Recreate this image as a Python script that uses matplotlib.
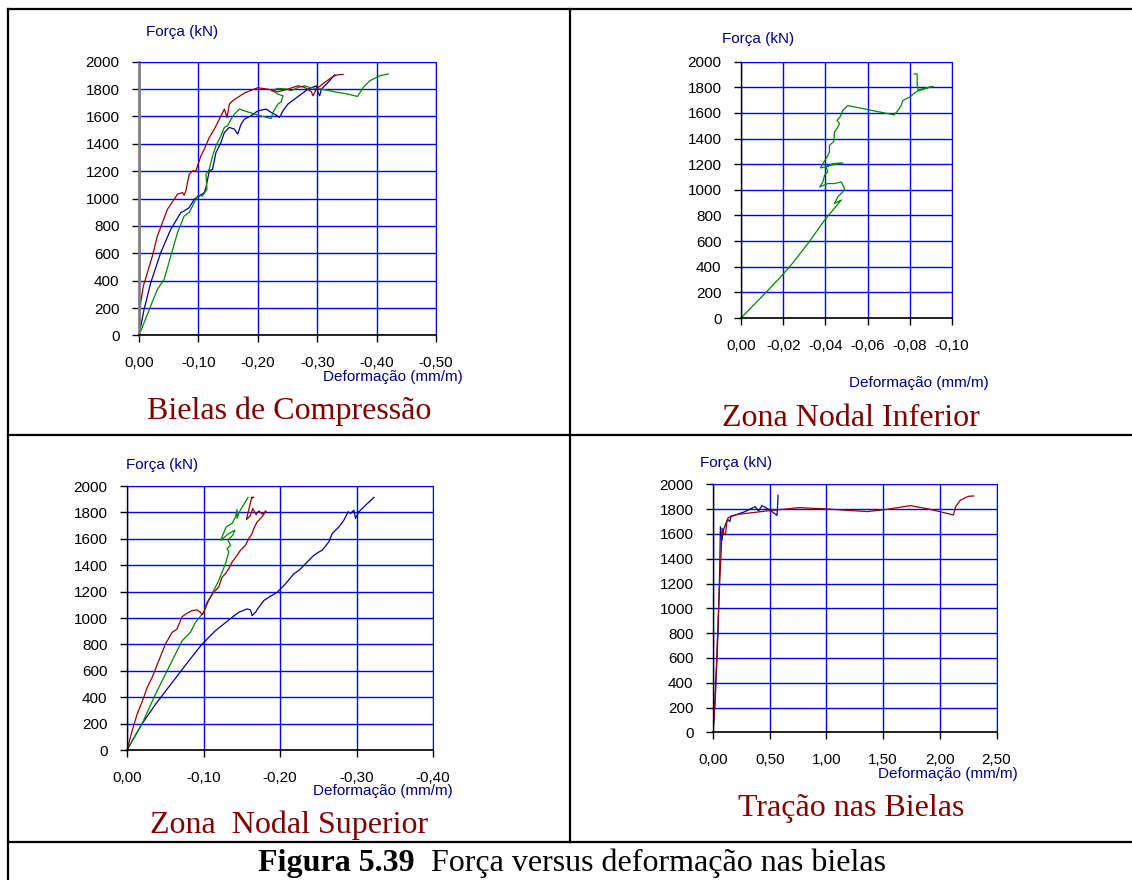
import matplotlib
matplotlib.use("Agg")
import matplotlib.pyplot as plt
from matplotlib.lines import Line2D
from matplotlib.ticker import FuncFormatter, MultipleLocator

plt.rcParams['font.family'] = ['Liberation Sans', 'DejaVu Sans']

W, H = 1132, 880

# ---- Bielas de Compressao (deformacao mm/m, forca kN)
bc_red_x = [0, -0.0028, -0.0073, -0.0141, -0.0225, -0.031, -0.0394, -0.0479, -0.0592, -0.0648,
            -0.0732, -0.076, -0.0789, -0.0845, -0.0901, -0.0958, -0.0986, -0.1042, -0.1099, -0.1183,
            -0.1268, -0.1352, -0.1437, -0.1482, -0.1521, -0.1577, -0.1775, -0.2, -0.2225, -0.2338,
            -0.2507, -0.2676, -0.2789, -0.2901, -0.293, -0.2986, -0.3127, -0.3268, -0.3352, -0.3437]
bc_red_f = [0, 239, 361, 459, 580, 727, 824, 922, 995, 1032,
            1044, 1024, 1056, 1178, 1202, 1202, 1239, 1312, 1361, 1446,
            1507, 1580, 1654, 1593, 1690, 1715, 1771, 1810, 1795, 1780,
            1800, 1824, 1812, 1780, 1751, 1800, 1849, 1893, 1905, 1907]

bc_blue_x = [0, -0.0085, -0.0197, -0.0366, -0.0535, -0.0704, -0.076, -0.0845, -0.093, -0.1014,
             -0.1099, -0.1127, -0.1155, -0.1183, -0.1239, -0.1296, -0.138, -0.1437, -0.1521, -0.1606,
             -0.1662, -0.1718, -0.1775, -0.1887, -0.2, -0.2141, -0.2225, -0.2282, -0.2366, -0.2423,
             -0.2507, -0.262, -0.2732, -0.2845, -0.2986, -0.3014, -0.3042, -0.307, -0.3183, -0.3296]
bc_blue_f = [0, 190, 385, 605, 776, 898, 910, 934, 995, 1020,
             1044, 1080, 1141, 1202, 1215, 1337, 1410, 1483, 1520, 1507,
             1471, 1544, 1580, 1605, 1641, 1654, 1629, 1617, 1593, 1641,
             1690, 1727, 1763, 1800, 1824, 1776, 1751, 1800, 1849, 1905]

bc_green_x = [0, -0.0085, -0.0197, -0.031, -0.0423, -0.0535, -0.0648, -0.0761, -0.0845, -0.0901,
              -0.0986, -0.107, -0.1144, -0.1127, -0.1183, -0.1239, -0.1296, -0.138, -0.1437, -0.1493,
              -0.1549, -0.1606, -0.169, -0.1775, -0.2, -0.2225, -0.2254, -0.2338, -0.2394, -0.2423,
              -0.2338, -0.2282, -0.2225, -0.2338, -0.2479, -0.2563, -0.2676, -0.2789, -0.2873, -0.307,
              -0.3296, -0.3521, -0.3679, -0.3775, -0.3887, -0.4056, -0.4197]
bc_green_f = [0, 93, 215, 337, 410, 580, 751, 873, 898, 946,
              1020, 1020, 1068, 1178, 1215, 1312, 1385, 1459, 1520, 1532,
              1580, 1617, 1654, 1641, 1610, 1585, 1629, 1690, 1707, 1751,
              1763, 1780, 1788, 1805, 1800, 1788, 1812, 1824, 1812, 1800,
              1780, 1763, 1746, 1812, 1861, 1898, 1910]

# ---- Zona Nodal Inferior
ni_green_x = [0, -0.0111, -0.019, -0.0244, -0.0324, -0.0396, -0.0475, -0.0443, -0.0459, -0.0483,
              -0.0491, -0.0475, -0.0443, -0.0411, -0.0373, -0.0388, -0.0396, -0.0411, -0.0404, -0.0435,
              -0.0483, -0.0427, -0.0396, -0.0376, -0.0388, -0.0408, -0.0419, -0.0419, -0.044, -0.0443,
              -0.0459, -0.0467, -0.0455, -0.0469, -0.0476, -0.0483, -0.0506, -0.0725, -0.0744, -0.0759,
              -0.0767, -0.0783, -0.0799, -0.0831, -0.087, -0.091, -0.0878, -0.0839, -0.0835, -0.0835,
              -0.082]
ni_green_f = [0, 187, 324, 427, 596, 764, 920, 894, 946, 984,
              1010, 1062, 1049, 1049, 1023, 1062, 1114, 1140, 1179, 1205,
              1210, 1192, 1179, 1171, 1205, 1256, 1295, 1347, 1378, 1451,
              1490, 1516, 1542, 1568, 1594, 1620, 1658, 1585, 1619, 1658,
              1697, 1710, 1723, 1767, 1788, 1808, 1795, 1780, 1819, 1904,
              1904]

# ---- Zona Nodal Superior
ns_red_x = [0, -0.0065, -0.0131, -0.0218, -0.0262, -0.0327, -0.0414, -0.0502, -0.0589, -0.0654,
            -0.0698, -0.072, -0.0785, -0.085, -0.0916, -0.0959, -0.0981, -0.1003, -0.1047, -0.109,
            -0.1134, -0.1199, -0.1243, -0.1287, -0.133, -0.1374, -0.1439, -0.1483, -0.1548, -0.1592,
            -0.1635, -0.1657, -0.1701, -0.1766, -0.1819, -0.1766, -0.1723, -0.1688, -0.1644, -0.1609,
            -0.1561, -0.1627, -0.1657, -0.1627]
ns_red_f = [0, 142, 269, 396, 472, 548, 675, 802, 891, 916,
            980, 1010, 1036, 1056, 1061, 1043, 1025, 1043, 1119, 1157,
            1195, 1234, 1310, 1335, 1373, 1424, 1475, 1513, 1551, 1602,
            1640, 1678, 1728, 1766, 1812, 1787, 1812, 1782, 1830, 1772,
            1746, 1906, 1914, 1914]

ns_green_x = [0, -0.0196, -0.0371, -0.0545, -0.072, -0.0829, -0.0894, -0.1003, -0.1068, -0.1134,
              -0.1199, -0.1243, -0.1287, -0.133, -0.1308, -0.1352, -0.1321, -0.1382, -0.1409, -0.133,
              -0.1225, -0.1295, -0.1374, -0.1417, -0.1439, -0.1439, -0.147, -0.1583]
ns_green_f = [0, 198, 421, 624, 827, 891, 967, 1043, 1132, 1208,
              1284, 1348, 1411, 1500, 1525, 1551, 1589, 1627, 1665, 1640,
              1589, 1690, 1716, 1766, 1822, 1754, 1805, 1914]

ns_blue_x = [0, -0.0196, -0.0371, -0.0589, -0.0807, -0.0981, -0.1156, -0.1374, -0.1461, -0.157,
             -0.1614, -0.1635, -0.1679, -0.1723, -0.1788, -0.1853, -0.1963, -0.1984, -0.2072, -0.2181,
             -0.2246, -0.2311, -0.2377, -0.2442, -0.2508, -0.2551, -0.2638, -0.2682, -0.277, -0.2835,
             -0.2891, -0.2922, -0.2966, -0.2987, -0.3031, -0.3075, -0.3227]
ns_blue_f = [0, 198, 345, 510, 675, 802, 904, 1005, 1043, 1069,
             1061, 1018, 1043, 1081, 1132, 1157, 1195, 1208, 1259, 1335,
             1360, 1398, 1437, 1475, 1500, 1513, 1576, 1640, 1690, 1741,
             1805, 1792, 1817, 1754, 1805, 1830, 1914]

# ---- Tracao nas Bielas
tb_red_x = [0, 0.015, 0.030, 0.045, 0.060, 0.074, 0.080, 0.095, 0.110, 0.122,
            0.134, 0.164, 0.223, 0.475, 0.76, 1.0, 1.36, 1.52, 1.74, 1.9,
            2.12, 2.14, 2.18, 2.25, 2.30]
tb_red_f = [0, 207, 530, 906, 1228, 1497, 1645, 1605, 1591, 1699,
            1731, 1745, 1758, 1785, 1812, 1801, 1780, 1796, 1828, 1801,
            1753, 1820, 1871, 1903, 1906]

tb_blue_x = [0, 0.021, 0.045, 0.060, 0.065, 0.080, 0.092, 0.128, 0.149, 0.158,
             0.223, 0.283, 0.372, 0.402, 0.432, 0.491, 0.565, 0.574]
tb_blue_f = [0, 288, 825, 1336, 1659, 1551, 1632, 1718, 1699, 1739,
             1761, 1780, 1820, 1785, 1828, 1798, 1750, 1911]

RED = '#990000'
GREEN = '#008800'
BLUE = '#000099'
NAVY = '#000080'
TITLE = '#800000'


def px(x, y):
    return x / W, 1 - y / H


def rect(l, t, r, b):
    return [l / W, 1 - b / H, (r - l) / W, (b - t) / H]


def comma(v, pos):
    if abs(v) < 1e-9:
        return '0,00'
    return f"{v:.2f}".replace('.', ',')


def make_axes(box, xmax, xstep, lspine='black', lw_left=1.0):
    ax = fig.add_axes(box)
    ax.set_ylim(0, 2000)
    ax.set_xlim(0, xmax)
    ax.yaxis.set_major_locator(MultipleLocator(200))
    ax.xaxis.set_major_locator(MultipleLocator(xstep))
    ax.xaxis.set_major_formatter(FuncFormatter(comma))
    ax.grid(True, color='#0000ff', lw=1.0)
    ax.set_axisbelow(True)
    ax.spines['top'].set_color('#0000ff')
    ax.spines['right'].set_color('#0000ff')
    ax.spines['left'].set_color(lspine)
    ax.spines['left'].set_linewidth(lw_left)
    ax.spines['bottom'].set_color('black')
    ax.spines['bottom'].set_linewidth(1.2)
    ax.tick_params(axis='both', labelsize=11, length=5, width=1, direction='out', color='black')
    ax.tick_params(axis='y', pad=9)
    ax.tick_params(axis='x', pad=10)
    return ax


fig = plt.figure(figsize=(W / 100, H / 100), dpi=100)

# panel 1
ax1 = make_axes(rect(139, 61.7, 436, 335.5), -0.5, 0.1, lspine='#808080', lw_left=2.0)
ax1.plot(bc_blue_x, bc_blue_f, color=BLUE, lw=0.9)
ax1.plot(bc_green_x, bc_green_f, color=GREEN, lw=0.9)
ax1.plot(bc_red_x, bc_red_f, color=RED, lw=0.9)

# panel 2
ax2 = make_axes(rect(741, 61.7, 952, 318), -0.1, 0.02)
ax2.plot(ni_green_x, ni_green_f, color=GREEN, lw=0.9)

# panel 3
ax3 = make_axes(rect(127, 486, 433, 750), -0.4, 0.1)
ax3.plot(ns_blue_x, ns_blue_f, color=BLUE, lw=0.9)
ax3.plot(ns_green_x, ns_green_f, color=GREEN, lw=0.9)
ax3.plot(ns_red_x, ns_red_f, color=RED, lw=0.9)

# panel 4
ax4 = make_axes(rect(713, 484.3, 996.5, 732.3), 2.5, 0.5)
ax4.plot(tb_blue_x, tb_blue_f, color=BLUE, lw=0.9)
ax4.plot(tb_red_x, tb_red_f, color=RED, lw=0.9)

# axis labels (free text like in the original)
for (fx, fy), (dx, dy) in [((145.5, 36), (323, 381)), ((721.6, 43), (849, 387)),
                           ((126, 469), (313, 795)), ((700, 467), (877.5, 778))]:
    fig.text(*px(fx, fy), 'Força (kN)', color=NAVY, fontsize=11, ha='left', va='baseline')
    fig.text(*px(dx, dy), 'Deformação (mm/m)', color=NAVY, fontsize=11, ha='left', va='baseline')

serif = ['Liberation Serif', 'DejaVu Serif']
for (cx, by), t in [((289, 419), 'Bielas de Compressão'), ((851, 426), 'Zona Nodal Inferior'),
                    ((289, 833), 'Zona  Nodal Superior'), ((851, 816), 'Tração nas Bielas')]:
    fig.text(*px(cx, by), t, color=TITLE, fontsize=23, family=serif, ha='center', va='baseline')

fig.text(*px(258, 871), 'Figura 5.39', fontsize=23, family=serif, weight='bold',
         ha='left', va='baseline')
fig.text(*px(431, 871), 'Força versus deformação nas bielas', fontsize=23, family=serif,
         ha='left', va='baseline')

# frame lines
for xs, ys in [((8, 1132), (9, 9)), ((8, 8), (9, 880)), ((570, 570), (9, 842)),
               ((8, 1132), (435, 435)), ((8, 1132), (842, 842))]:
    fig.add_artist(Line2D([x / W for x in xs], [1 - y / H for y in ys], color='black', lw=1.6))

fig.savefig('out.png', dpi=100)
